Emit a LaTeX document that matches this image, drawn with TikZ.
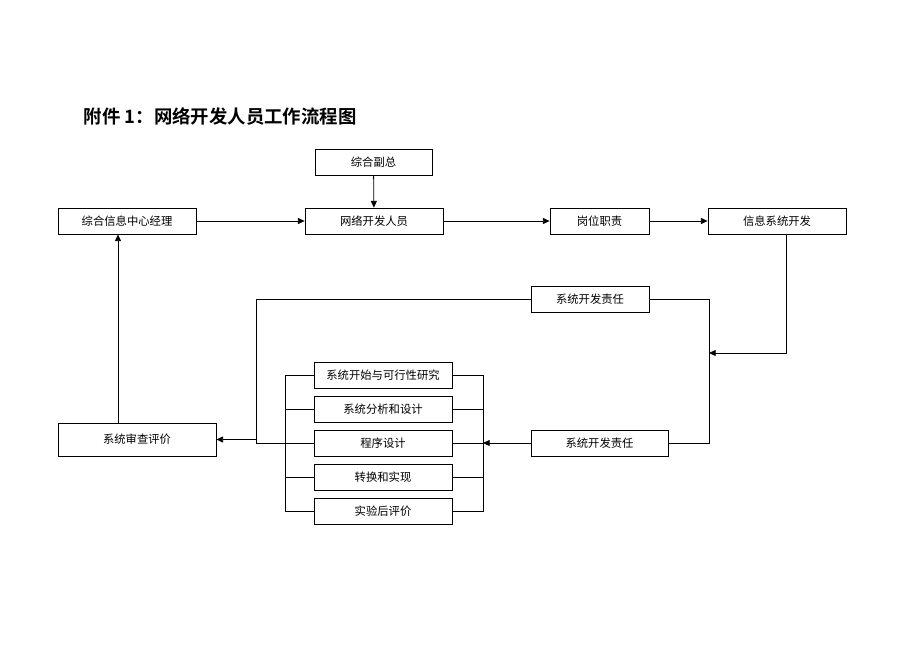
\documentclass[tikz,border=0pt]{standalone}
\usepackage{fontspec}
\setmainfont{Noto Sans CJK SC}[BoldFont=Noto Sans CJK SC Bold]
\usetikzlibrary{arrows.meta}

\begin{document}
\begin{tikzpicture}[x=0.75pt, y=-0.75pt, line width=0.6pt,
    box/.style={draw, inner sep=0pt, minimum height=19.5pt, font=\fontsize{8.5}{10}\selectfont},
    arr/.style={-{Triangle[length=5pt,width=4.5pt]}}]
        \useasboundingbox (0,0) rectangle (920,651);
        % Title
        \node[anchor=west, font=\bfseries\fontsize{13.8}{16}\selectfont] (title) at (79,116) {附件 1：网络开发人员工作流程图};

        % Nodes (top row)
        \node[box, minimum width=87.75pt] (fuzong) at (373.5,162) {综合副总};
        \node[box, minimum width=103.5pt] (jingli) at (127,221) {综合信息中心经理};
        \node[box, minimum width=103.5pt] (renyuan) at (374,221) {网络开发人员};
        \node[box, minimum width=74.25pt] (gangwei) at (599.5,221) {岗位职责};
        \node[box, minimum width=103.5pt] (kaifa) at (777,221) {信息系统开发};

        % Nodes (responsibility loop)
        \node[box, minimum width=88.5pt] (zeren1) at (590,299) {系统开发责任};
        \node[box, minimum width=102.75pt] (zeren2) at (599.5,443) {系统开发责任};
        \node[box, minimum width=118.5pt, minimum height=24.75pt] (shencha) at (137,439.5) {系统审查评价};

        % Nodes (development stages)
        \node[box, minimum width=103.5pt] (s1) at (383,375) {系统开始与可行性研究};
        \node[box, minimum width=103.5pt] (s2) at (383,409) {系统分析和设计};
        \node[box, minimum width=103.5pt] (s3) at (383,443) {程序设计};
        \node[box, minimum width=103.5pt] (s4) at (383,477) {转换和实现};
        \node[box, minimum width=103.5pt] (s5) at (383,511) {实验后评价};

        % Corner points
        \coordinate (rin) at (709,353);
        \coordinate (rv) at (709,443);
        \coordinate (bx) at (483,443);
        \coordinate (bl) at (285,443);
        \coordinate (lo) at (256,443);

        % Edges (top row)
        \draw[arr] (fuzong) -- (renyuan);
        \draw[arr] (jingli) -- (renyuan);
        \draw[arr] (renyuan) -- (gangwei);
        \draw[arr] (gangwei) -- (kaifa);
        \draw[arr] ([xshift=6.75pt]kaifa.south) |- (rin);

        % Edges (responsibility loop)
        \draw (zeren1.east) -| (rv) -- (zeren2.east);
        \draw[arr] (zeren2.west) -- (bx);
        \draw (zeren1.west) -| (lo) -- (s3.west);
        \draw[arr] (lo |- shencha.east) -- (shencha.east);
        \draw[arr] ([xshift=-6.75pt]jingli.south |- shencha.north) -- ([xshift=-6.75pt]jingli.south);

        % Edges (brackets round the stages)
        \draw (s1.east) -| (bx |- s5.east) -- (s5.east);
        \draw (s2.east) -- (bx |- s2.east);
        \draw (s3.east) -- (bx);
        \draw (s4.east) -- (bx |- s4.east);
        \draw (s1.west) -| (bl |- s5.west) -- (s5.west);
        \draw (s2.west) -- (bl |- s2.west);
        \draw (s4.west) -- (bl |- s4.west);
    \end{tikzpicture}
\end{document}
